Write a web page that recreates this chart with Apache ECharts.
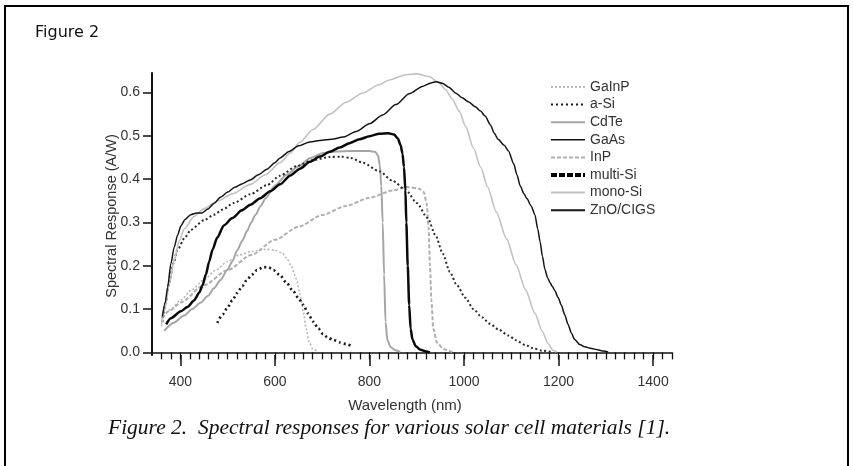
<!DOCTYPE html>
<html>
<head>
<meta charset="utf-8">
<script src="https://cdn.jsdelivr.net/npm/echarts@6/dist/echarts.min.js"></script>
<style>
html,body{margin:0;padding:0;background:#fff;}
#chart{width:853px;height:466px;}
</style>
</head>
<body>
<div id="chart"></div>
<script>
// ---- data: [wavelength nm, spectral response A/W] ----
const GaInP = [[360,0.075],[380,0.1],[400,0.12],[425,0.145],[450,0.168],[475,0.19],[500,0.21],[525,0.225],[550,0.233],[580,0.238],[600,0.236],[615,0.23],[625,0.218],[635,0.198],[645,0.17],[653,0.135],[660,0.095],[666,0.055],[672,0.025],[680,0.008],[692,0.001]];
const aSi = [[478,0.068],[490,0.088],[499,0.102],[510,0.12],[520,0.137],[531,0.153],[541,0.168],[552,0.18],[562,0.19],[576,0.197],[587,0.196],[597,0.19],[611,0.178],[625,0.16],[639,0.141],[650,0.125],[660,0.11],[670,0.09],[681,0.071],[692,0.055],[702,0.042],[712,0.034],[723,0.029],[737,0.023],[751,0.019],[760,0.016]];
const CdTe = [[366,0.05],[385,0.068],[408,0.085],[425,0.1],[443,0.115],[458,0.13],[471,0.148],[485,0.167],[499,0.19],[510,0.21],[520,0.235],[531,0.258],[541,0.28],[550,0.3],[559,0.318],[570,0.338],[580,0.355],[600,0.385],[625,0.41],[650,0.43],[675,0.449],[700,0.46],[730,0.464],[760,0.465],[800,0.465],[812,0.463],[818,0.455],[822,0.432],[825,0.385],[828,0.3],[831,0.18],[834,0.07],[838,0.028],[845,0.012],[855,0.005],[865,0.001]];
const GaAs = [[370,0.065],[380,0.079],[401,0.095],[415,0.105],[429,0.12],[440,0.138],[447,0.155],[454,0.18],[461,0.21],[468,0.237],[478,0.265],[492,0.293],[510,0.31],[530,0.328],[548,0.341],[569,0.356],[590,0.372],[611,0.388],[632,0.408],[653,0.424],[674,0.44],[695,0.452],[716,0.463],[737,0.473],[758,0.483],[779,0.492],[800,0.499],[821,0.505],[840,0.506],[852,0.503],[860,0.494],[866,0.478],[870,0.458],[873,0.428],[876,0.375],[878,0.3],[881,0.2],[884,0.11],[887,0.055],[891,0.03],[898,0.014],[908,0.006],[920,0.002],[928,0]];
const InP = [[360,0.08],[380,0.098],[400,0.115],[450,0.155],[500,0.19],[550,0.225],[600,0.26],[650,0.29],[700,0.317],[750,0.338],[800,0.357],[850,0.374],[880,0.382],[905,0.378],[915,0.37],[921,0.345],[925,0.29],[928,0.2],[931,0.12],[935,0.055],[943,0.022],[958,0.007],[975,0.001]];
const multiSi = [[362,0.07],[369,0.115],[376,0.16],[385,0.205],[394,0.237],[410,0.266],[422,0.283],[450,0.305],[471,0.318],[490,0.33],[513,0.345],[548,0.365],[583,0.386],[611,0.408],[646,0.43],[680,0.444],[716,0.451],[740,0.452],[760,0.449],[786,0.438],[821,0.418],[849,0.396],[877,0.375],[900,0.345],[923,0.31],[940,0.27],[955,0.228],[970,0.186],[985,0.155],[1003,0.126],[1020,0.1],[1038,0.081],[1055,0.066],[1073,0.053],[1094,0.039],[1110,0.028],[1130,0.017],[1145,0.01],[1165,0.004],[1185,0.001]];
const monoSi = [[360,0.06],[366,0.094],[377,0.16],[387,0.213],[398,0.258],[408,0.285],[429,0.314],[450,0.332],[480,0.35],[510,0.366],[548,0.388],[580,0.41],[611,0.438],[632,0.46],[653,0.485],[680,0.514],[716,0.55],[750,0.577],[786,0.599],[820,0.618],[842,0.629],[877,0.641],[900,0.643],[926,0.637],[947,0.622],[961,0.607],[975,0.585],[990,0.557],[1003,0.523],[1020,0.472],[1035,0.428],[1050,0.382],[1068,0.325],[1090,0.262],[1110,0.203],[1130,0.145],[1150,0.09],[1165,0.05],[1178,0.02],[1188,0.005],[1196,0.001]];
const ZnOCIGS = [[362,0.083],[368,0.115],[373,0.15],[380,0.205],[387,0.243],[394,0.27],[401,0.292],[410,0.307],[422,0.318],[435,0.322],[446,0.322],[458,0.331],[471,0.344],[485,0.358],[500,0.37],[515,0.381],[530,0.389],[548,0.398],[565,0.41],[583,0.423],[600,0.438],[611,0.449],[630,0.464],[650,0.477],[674,0.486],[700,0.49],[720,0.492],[744,0.497],[772,0.51],[800,0.528],[828,0.548],[856,0.572],[884,0.597],[912,0.614],[930,0.622],[941,0.625],[955,0.621],[968,0.612],[982,0.599],[996,0.588],[1010,0.578],[1024,0.567],[1035,0.557],[1045,0.545],[1056,0.525],[1064,0.506],[1072,0.492],[1085,0.478],[1094,0.465],[1105,0.436],[1112,0.41],[1119,0.384],[1127,0.366],[1133,0.355],[1142,0.338],[1150,0.318],[1156,0.285],[1161,0.255],[1166,0.222],[1171,0.192],[1177,0.172],[1182,0.161],[1187,0.152],[1192,0.143],[1199,0.127],[1206,0.109],[1213,0.087],[1220,0.065],[1227,0.045],[1234,0.03],[1245,0.018],[1255,0.013],[1270,0.009],[1283,0.006],[1295,0.003],[1305,0.001]];

const legendNames = ['GaInP','a-Si','CdTe','GaAs','InP','multi-Si','mono-Si','ZnO/CIGS'];
const yTicks = [0,0.1,0.2,0.3,0.4,0.5,0.6];
const xMajor = [400,600,800,1000,1200,1400];
const xMinor = [];
for (let v = 360; v <= 1440; v += 20) xMinor.push(v);

const chart = echarts.init(document.getElementById('chart'));

function line(name, data, color, width, type, z) {
  return {
    name, type: 'line', data, symbol: 'none', smooth: 0.25, smoothMonotone: 'x',
    xAxisIndex: 0, yAxisIndex: 0, z: z || 2,
    lineStyle: { color, width, type },
    itemStyle: { color },
    emphasis: { disabled: true }, silent: true, animation: false
  };
}

const option = {
  animation: false,
  grid: { left: 152, top: 73, width: 520, height: 282, containLabel: false },
  xAxis: [{
    type: 'value', min: 340, max: 1440, position: 'bottom',
    axisLine: { show: true, lineStyle: { color: '#111', width: 1.5 } },
    axisTick: { show: true, customValues: xMinor, length: 7, lineStyle: { color: '#111', width: 1.3 } },
    axisLabel: { customValues: xMajor, margin: 20, fontFamily: 'Arial, "Liberation Sans"', fontSize: 14, color: '#333',
      formatter: v => String(v) },
    splitLine: { show: false }
  }, {
    type: 'value', min: 340, max: 1440, position: 'bottom',
    axisLine: { show: false },
    axisTick: { show: true, customValues: xMajor, length: 11, lineStyle: { color: '#111', width: 1.5 } },
    axisLabel: { show: false },
    splitLine: { show: false }
  }],
  yAxis: [{
    type: 'value', min: -0.006, max: 0.645,
    axisLine: { show: true, lineStyle: { color: '#111', width: 2 } },
    axisTick: { show: true, customValues: yTicks, length: 9, lineStyle: { color: '#111', width: 1.5 } },
    axisLabel: { customValues: yTicks, margin: 12, fontFamily: 'Arial, "Liberation Sans"', fontSize: 14, color: '#333',
      formatter: v => v.toFixed(1) },
    splitLine: { show: false }
  }],
  legend: {
    orient: 'vertical', left: 549, top: 80, padding: 0, itemWidth: 34, itemHeight: 14, itemGap: 3.6,
    textStyle: { fontFamily: 'Arial, "Liberation Sans"', fontSize: 14, color: '#333' },
    itemStyle: { opacity: 0 },
    selectedMode: false,
    data: [
      { name: 'GaInP' },
      { name: 'a-Si' },
      { name: 'CdTe' },
      { name: 'GaAs', lineStyle: { color: '#111', width: 1.5, type: 'solid' } },
      { name: 'InP' },
      { name: 'multi-Si', lineStyle: { color: '#000', width: 4, type: [6, 2] } },
      { name: 'mono-Si' },
      { name: 'ZnO/CIGS' }
    ]
  },
  series: [
    line('GaInP', GaInP, '#b8b8b8', 1.6, [2, 2]),
    line('a-Si', aSi, '#1a1a1a', 2.6, [2, 3]),
    line('CdTe', CdTe, '#a5a5a5', 2, 'solid'),
    line('GaAs', GaAs, '#0a0a0a', 2.5, 'solid', 4),
    line('InP', InP, '#b0b0b0', 2, [4, 2]),
    line('multi-Si', multiSi, '#2a2a2a', 2, [2, 2.5]),
    line('mono-Si', monoSi, '#c2c2c2', 1.6, 'solid'),
    line('ZnO/CIGS', ZnOCIGS, '#151515', 1.5, 'solid', 3)
  ],
  graphic: [
    { type: 'rect', shape: { x: 5, y: 6, width: 843, height: 470 }, style: { fill: 'none', stroke: '#000', lineWidth: 2 }, silent: true },
    { type: 'text', left: 35, top: 25, style: { text: 'Figure 2', font: '16px "DejaVu Sans", Verdana, sans-serif', fill: '#111' } },
    { type: 'text', x: 405, y: 406, style: { text: 'Wavelength (nm)', font: '15px Arial, "Liberation Sans"', fill: '#333', align: 'center', verticalAlign: 'middle' } },
    { type: 'text', x: 112, y: 216, rotation: Math.PI / 2, style: { text: 'Spectral Response (A/W)', font: '14.5px Arial, "Liberation Sans"', fill: '#333', align: 'center', verticalAlign: 'middle' } },
    { type: 'text', x: 108, y: 428, style: { text: 'Figure 2.  Spectral responses for various solar cell materials [1].', font: 'italic 21.5px "Liberation Serif", "Times New Roman", serif', fill: '#111', verticalAlign: 'middle' } }
  ]
};
chart.setOption(option);
</script>
</body>
</html>
